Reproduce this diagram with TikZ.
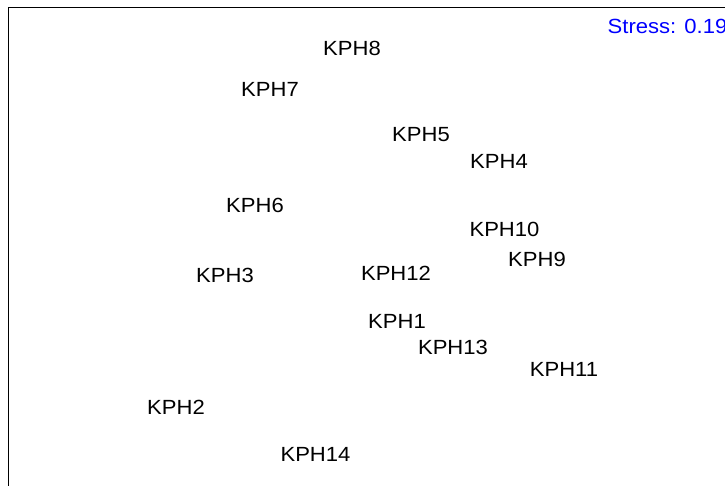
\documentclass[tikz,border=0pt]{standalone}
\usepackage{fontspec}
\setmainfont{Liberation Sans}
\begin{document}
\begin{tikzpicture}[x=1pt,y=-1pt,
  lab/.style={inner sep=0pt, anchor=center, font=\fontsize{20.5}{24}\selectfont},
  stresslab/.style={inner sep=0pt, anchor=west, text=blue, font=\fontsize{20.5}{24}\selectfont}]
\useasboundingbox (0,0) rectangle (725,486);
\clip (0,0) rectangle (725,486);
\fill[white] (0,0) rectangle (725,486);
\draw[line width=1pt] (8,486) -- (8,7.5) -- (726,7.5);
\newcommand{\kl}[1]{\scalebox{1.075}[1]{#1}}
\node[lab] (k8) at (352,48) {\kl{KPH8}};
\node[lab] (k7) at (270,89) {\kl{KPH7}};
\node[lab] (k5) at (421,135) {\kl{KPH5}};
\node[lab] (k4) at (499,161) {\kl{KPH4}};
\node[lab] (k6) at (255,205) {\kl{KPH6}};
\node[lab] (k10) at (504.5,229) {\kl{KPH10}};
\node[lab] (k9) at (537,259) {\kl{KPH9}};
\node[lab] (k3) at (225,275) {\kl{KPH3}};
\node[lab] (k12) at (396,273) {\kl{KPH12}};
\node[lab] (k1) at (397,321) {\kl{KPH1}};
\node[lab] (k13) at (453,347) {\kl{KPH13}};
\node[lab] (k11) at (564,369) {\kl{KPH11}};
\node[lab] (k2) at (176,407) {\kl{KPH2}};
\node[lab] (k14) at (315.5,454.5) {\kl{KPH14}};
\node[stresslab] (st) at (607.5,26.5) {\kl{Stress: 0.19}};
\end{tikzpicture}
\end{document}
